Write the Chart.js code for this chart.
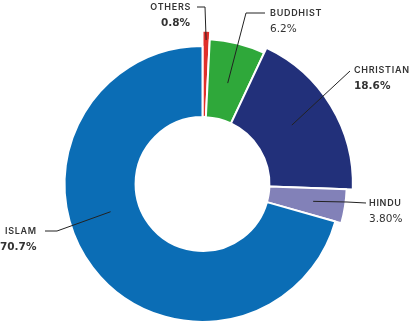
<!DOCTYPE html>
<html>
<head>
<meta charset="utf-8">
<script src="https://cdn.jsdelivr.net/npm/chart.js@4.4.0/dist/chart.umd.min.js"></script>
<style>
  html, body { margin: 0; padding: 0; background: #fff; }
  #wrap { width: 413px; height: 325px; }
</style>
</head>
<body>
<div id="wrap"><canvas id="c" width="413" height="325"></canvas></div>
<script>
'use strict';
const categories = ['OTHERS', 'BUDDHIST', 'CHRISTIAN', 'HINDU', 'ISLAM'];
const shares = [0.8, 6.2, 18.6, 3.8, 70.7];
const shareText = ['0.8%', '6.2%', '18.6%', '3.80%', '70.7%'];
const boldValue = [true, false, true, false, true];
const colors = ['#e0302b', '#2fa83a', '#22307a', '#8281b8', '#0b6db5'];
// each slice sticks out a bit differently
const ringScale = [1.11, 1.05, 1.09, 1.045, 1];

// leader lines + text placement
const labelLayout = [
    { frac: 0.5, r: 144, path: [[205, 7], [197, 7]], x: 190, y: 7, align: 'right' },
    { frac: 0.5, r: 104, path: [[246, 13], [265, 13]], x: 270, y: 13, align: 'left' },
    { frac: 0.47, r: 107, path: [[350, 71]], x: 354, y: 70, align: 'left' },
    { frac: 0.5, r: 112, path: [[347, 202], [366, 203]], x: 369, y: 203, align: 'left' },
    { frac: 0.58, r: 96, path: [[57, 231], [45, 231]], x: 5, y: 231, vx: 0, align: 'left' }
];

const ringPlugin = {
    id: 'ring',
    afterDatasetsUpdate(chart) {
        const meta = chart.getDatasetMeta(0);
        const base = meta.controller.outerRadius;
        meta.data.forEach((arc, i) => { arc.outerRadius = base * ringScale[i]; });
    }
};

const labelPlugin = {
    id: 'labels',
    afterDraw(chart) {
        const ctx = chart.ctx;
        const meta = chart.getDatasetMeta(0);
        ctx.save();
        meta.data.forEach((arc, i) => {
            const L = labelLayout[i];
            const a = arc.startAngle + L.frac * (arc.endAngle - arc.startAngle);
            const ax = arc.x + Math.cos(a) * L.r;
            const ay = arc.y + Math.sin(a) * L.r;
            ctx.strokeStyle = '#222';
            ctx.lineWidth = 1;
            ctx.beginPath();
            ctx.moveTo(ax, ay);
            L.path.forEach(p => ctx.lineTo(p[0], p[1]));
            ctx.stroke();

            ctx.fillStyle = '#333';
            ctx.textBaseline = 'middle';
            ctx.textAlign = L.align;
            ctx.letterSpacing = '0.7px';
            ctx.font = '600 9px Inter';
            const nx = L.align === 'right' ? L.x + 1 : L.x;
            ctx.fillText(categories[i], nx, L.y);
            ctx.letterSpacing = '0px';
            ctx.font = (boldValue[i] ? 'bold ' : '') + '10.5px "DejaVu Sans"';
            ctx.fillText(shareText[i], L.vx !== undefined ? L.vx : L.x, L.y + 16);
        });
        ctx.restore();
    }
};

new Chart(document.getElementById('c'), {
    type: 'doughnut',
    data: {
        labels: categories,
        datasets: [{
            data: shares,
            backgroundColor: colors,
            borderColor: '#fff',
            borderWidth: 2,
            clip: false
        }]
    },
    options: {
        responsive: false,
        animation: false,
        events: [],
        cutout: '48.5%',
        layout: { padding: { left: 63.5, right: 71.5, top: 45, bottom: 2 } },
        plugins: { legend: { display: false }, tooltip: { enabled: false } }
    },
    plugins: [ringPlugin, labelPlugin]
});
</script>
</body>
</html>
